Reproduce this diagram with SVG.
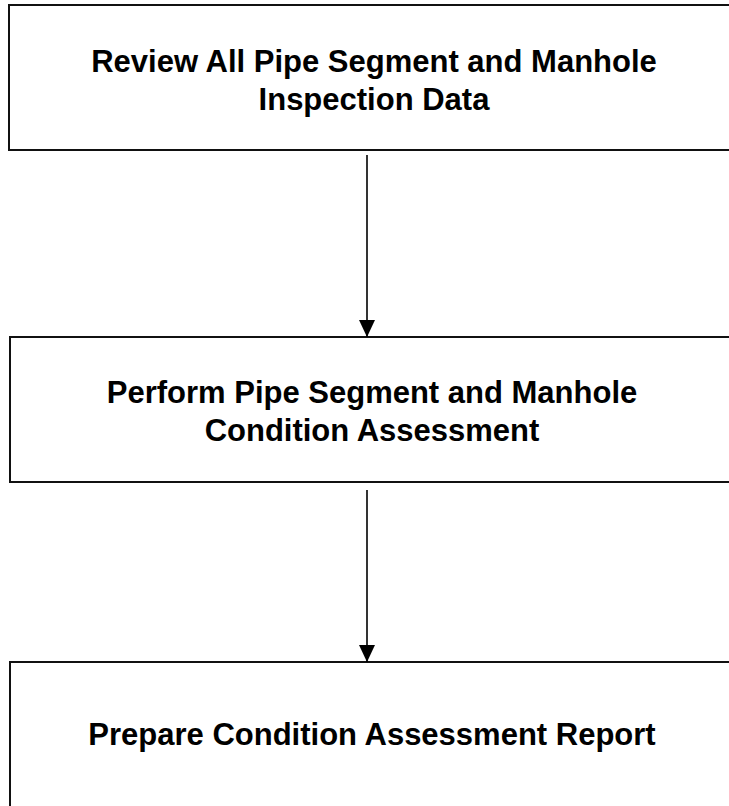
<svg xmlns="http://www.w3.org/2000/svg" width="729" height="806" viewBox="0 0 729 806">
<defs>
<style>
.box{fill:#ffffff;stroke:#111111;stroke-width:2}
.lbl{font-family:"Liberation Sans",Arial,sans-serif;font-weight:bold;font-size:31px;fill:#000000;text-anchor:middle}
.conn{stroke:#000000;stroke-width:1.6;fill:none}
</style>
<marker id="arrow" markerUnits="userSpaceOnUse" markerWidth="18" markerHeight="16" refX="17" refY="8" orient="auto">
<path d="M0,0 L17,8 L0,16 Z" fill="#000000"/>
</marker>
</defs>
<rect width="729" height="806" fill="#ffffff"/>
<g id="node-review">
<rect class="box" x="9" y="5" width="730" height="145"/>
<text class="lbl" x="374" y="72">Review All Pipe Segment and Manhole</text>
<text class="lbl" x="374" y="110">Inspection Data</text>
</g>
<g id="node-perform">
<rect class="box" x="10" y="337" width="730" height="145"/>
<text class="lbl" x="372" y="403">Perform Pipe Segment and Manhole</text>
<text class="lbl" x="372" y="441">Condition Assessment</text>
</g>
<g id="node-prepare">
<rect class="box" x="10" y="662" width="730" height="200"/>
<text class="lbl" x="372" y="745">Prepare Condition Assessment Report</text>
</g>
<g id="connectors">
<line class="conn" x1="367" y1="155" x2="367" y2="337" marker-end="url(#arrow)"/>
<line class="conn" x1="367" y1="490" x2="367" y2="662" marker-end="url(#arrow)"/>
</g>
</svg>
